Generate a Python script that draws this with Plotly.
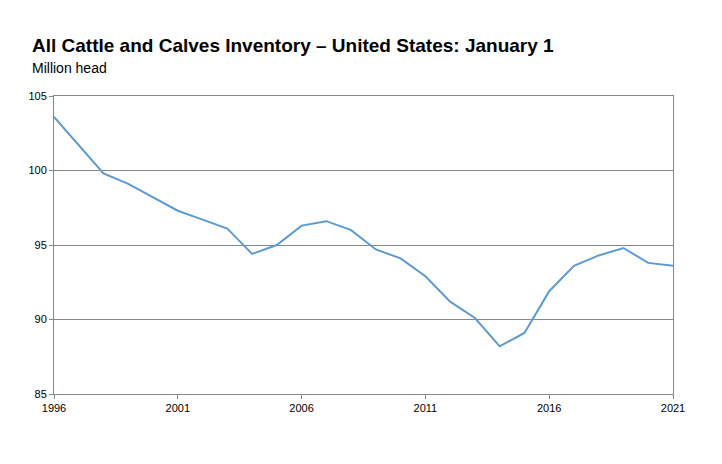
import plotly.graph_objects as go

years = list(range(1996, 2022))
head = [103.6, 101.7, 99.8, 99.1, 98.2, 97.3, 96.7, 96.1, 94.4, 95.0,
        96.3, 96.6, 96.0, 94.7, 94.1, 92.9, 91.2, 90.1, 88.2, 89.1,
        91.9, 93.6, 94.3, 94.8, 93.8, 93.6]
x_ticks = [1996, 2001, 2006, 2011, 2016, 2021]
y_ticks = [85, 90, 95, 100, 105]

# page body adds an 8px offset, so margins are shifted accordingly
L, R, T, B = 46, 57, 88, 78
W, H = 722, 464


def px_to_paper(x, y):
    return (x - 8 - L) / (W - L - R), (H - (y - 8) - B) / (H - T - B)


fig = go.Figure()
fig.add_trace(go.Scatter(x=years, y=head, mode="lines",
                         line=dict(color="#5b9bd5", width=2)))

tx, ty = px_to_paper(30, 45)
sx, sy = px_to_paper(30, 68)
fig.update_layout(
    width=W, height=H,
    paper_bgcolor="white", plot_bgcolor="white",
    margin=dict(l=L, r=R, t=T, b=B),
    showlegend=False,
    font=dict(family="Liberation Sans, Arial", color="#000"),
    annotations=[
        dict(text="<b>All Cattle and Calves Inventory – United States: January 1</b>",
             x=tx, y=ty, xref="paper", yref="paper", showarrow=False,
             font=dict(size=19), xanchor="left", yanchor="middle"),
        dict(text="Million head", x=sx, y=sy, xref="paper", yref="paper",
             showarrow=False, font=dict(size=14),
             xanchor="left", yanchor="middle"),
    ],
)

fig.update_xaxes(range=[1996, 2021], tickvals=x_ticks, showgrid=False,
                 showline=True, linecolor="#888", mirror=True,
                 ticks="outside", ticklen=4, tickcolor="#888",
                 tickfont=dict(size=11))
fig.update_yaxes(range=[85, 105], tickvals=y_ticks, showgrid=True,
                 gridcolor="#888", gridwidth=1,
                 showline=True, linecolor="#888", mirror=True,
                 ticks="outside", ticklen=4, tickcolor="#888",
                 tickfont=dict(size=11))

fig.write_html("out.html")
